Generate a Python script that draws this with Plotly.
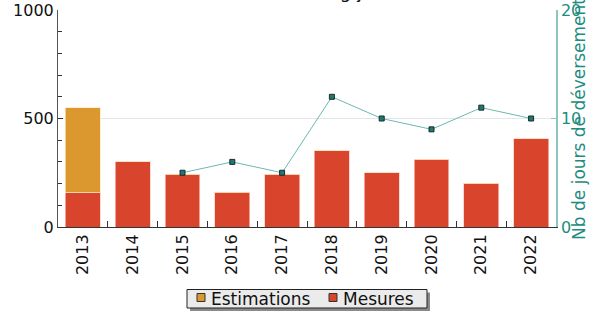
import plotly.graph_objects as go

years = ["2013", "2014", "2015", "2016", "2017", "2018", "2019", "2020", "2021", "2022"]
estimations = [390, 0, 0, 0, 0, 0, 0, 0, 0, 0]
mesures = [160, 300, 242, 160, 242, 352, 250, 313, 202, 407]
jours = [None, None, 5, 6, 5, 12, 10, 9, 11, 10]
legend_names = ["Estimations", "Mesures"]

red = "#D9442C"
orange = "#DA982E"
teal = "#1E8C80"
teal_light = "#8EC5C1"

L, R, T, B = 58, 38, 10, 86
W, H = 594, 313
PW, PH = W - L - R, H - T - B


def px(x):
    return (x - L) / PW


def py(y):
    return (H - B - y) / PH


fig = go.Figure()
fig.add_trace(go.Bar(x=years, y=mesures, name="Mesures", showlegend=False,
                     marker=dict(color=red, line=dict(color="rgba(255,200,190,0.7)", width=1))))
fig.add_trace(go.Bar(x=years, y=estimations, name="Estimations", showlegend=False,
                     marker=dict(color=orange, line=dict(color="rgba(255,230,190,0.7)", width=1))))
fig.add_trace(go.Scatter(x=years, y=jours, yaxis="y2", mode="lines+markers", showlegend=False,
                         line=dict(color="#6DB8B2", width=1),
                         marker=dict(symbol="square", size=5, color="#1D7A70", line=dict(color="#1a2a2a", width=1))))

# custom legend (box with shadow)
shapes = [
    dict(type="rect", xref="paper", yref="paper", x0=px(190), x1=px(430), y0=py(292.5), y1=py(311),
         fillcolor="#8a8a8a", line=dict(width=0), layer="above"),
    dict(type="rect", xref="paper", yref="paper", x0=px(187), x1=px(427), y0=py(289.5), y1=py(308),
         fillcolor="#ebebeb", line=dict(color="#222", width=1), layer="above"),
]
annotations = []
for nm, col, sx, tx in [(legend_names[0], orange, 197, 209), (legend_names[1], red, 329, 341)]:
    shapes.append(dict(type="rect", xref="paper", yref="paper", x0=px(sx), x1=px(sx + 8),
                       y0=py(293.5), y1=py(301.5), fillcolor=col, line=dict(color="#333", width=1), layer="above"))
    annotations.append(dict(text=nm, xref="paper", yref="paper", x=px(tx), y=py(299), xanchor="left",
                            yanchor="middle", showarrow=False, font=dict(size=17, color="#111")))

annotations += [
    dict(text="Flux déversé (DBO5 en kg/j)", xref="paper", yref="paper", x=0.628, y=1.028,
         xanchor="right", yanchor="bottom", showarrow=False, font=dict(size=18, color="#111")),
    dict(text="Nb de jours de déversement", xref="paper", yref="paper", x=1.045, y=0.5,
         xanchor="center", yanchor="middle", textangle=-90, showarrow=False,
         font=dict(size=17, color=teal)),
]

fig.update_layout(
    width=W, height=H,
    margin=dict(l=L, r=R, t=T, b=B, autoexpand=False),
    barmode="stack", bargap=0.3, showlegend=False,
    plot_bgcolor="white", paper_bgcolor="white",
    font=dict(family="DejaVu Sans", size=16, color="#111"),
    xaxis=dict(type="category", range=[-0.5, 9.5], tickangle=-90, ticks="inside", tickson="boundaries", ticklen=6,
               tickcolor="#333", showline=True, linecolor="#333", linewidth=1, showgrid=False,
               tickfont=dict(size=16), automargin=False),
    yaxis=dict(range=[0, 1000], tickvals=[0, 500, 1000], ticks="inside", ticklen=5, tickcolor="#333",
               showline=True, linecolor="#555", linewidth=1, showgrid=True, gridcolor="#e6e6e6",
               zeroline=False, minor=dict(dtick=100, ticks="inside", ticklen=4, tickcolor="#333", showgrid=False),
               tickfont=dict(size=16), automargin=False),
    yaxis2=dict(overlaying="y", side="right", range=[0, 20], tickvals=[0, 10, 20], ticks="inside",
                ticklen=5, tickcolor=teal_light, showline=True, linecolor=teal_light, linewidth=1.5,
                showgrid=False, zeroline=False, tickfont=dict(size=16, color=teal), automargin=False),
    shapes=shapes,
    annotations=annotations,
)

fig.write_html("out.html", config={"displayModeBar": False},
               post_script="document.body.style.margin='0px';")
